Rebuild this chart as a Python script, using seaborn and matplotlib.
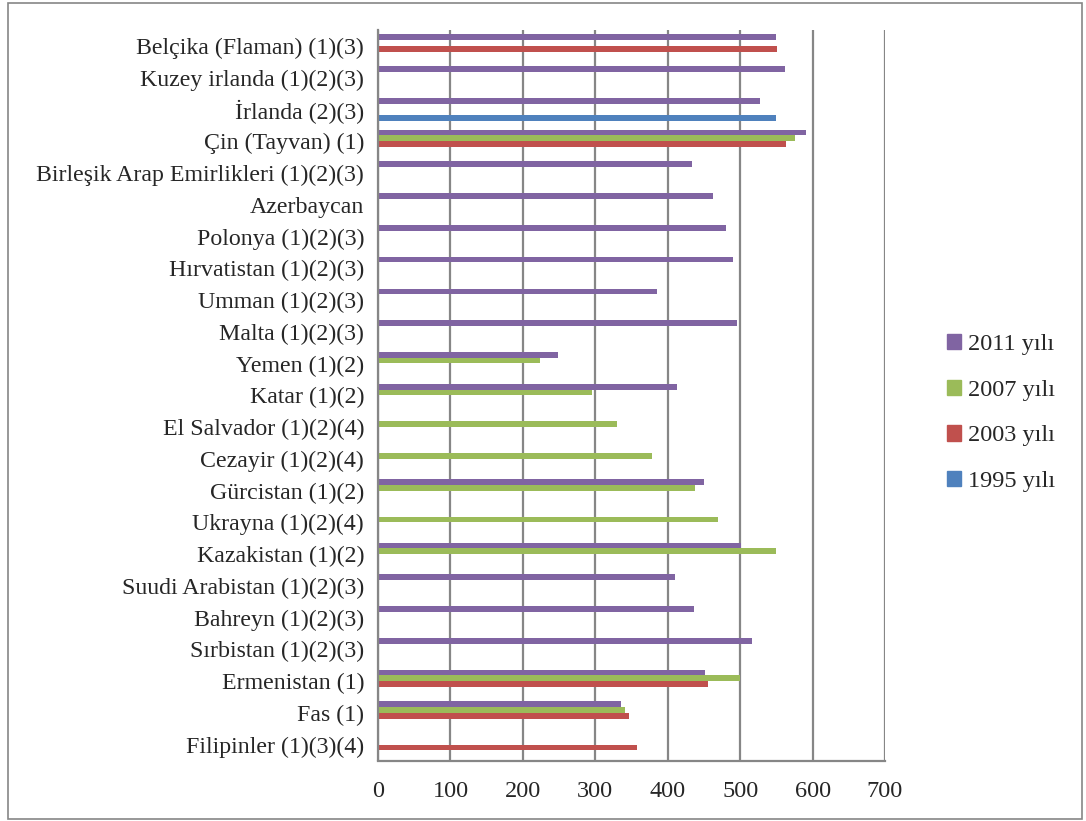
import numpy as np
import pandas as pd
import matplotlib.pyplot as plt
import matplotlib.patches as mpatches
import seaborn as sns

countries = [
    'Belçika (Flaman) (1)(3)', 'Kuzey irlanda (1)(2)(3)', 'İrlanda (2)(3)',
    'Çin (Tayvan) (1)', 'Birleşik Arap Emirlikleri (1)(2)(3)', 'Azerbaycan',
    'Polonya (1)(2)(3)', 'Hırvatistan (1)(2)(3)', 'Umman (1)(2)(3)',
    'Malta (1)(2)(3)', 'Yemen (1)(2)', 'Katar (1)(2)', 'El Salvador (1)(2)(4)',
    'Cezayir (1)(2)(4)', 'Gürcistan (1)(2)', 'Ukrayna (1)(2)(4)',
    'Kazakistan (1)(2)', 'Suudi Arabistan (1)(2)(3)', 'Bahreyn (1)(2)(3)',
    'Sırbistan (1)(2)(3)', 'Ermenistan (1)', 'Fas (1)', 'Filipinler (1)(3)(4)',
]
nan = np.nan
y2011 = [549, 562, 527, 591, 434, 463, 481, 490, 385, 496, 248, 413, nan,
         nan, 450, nan, 501, 410, 436, 516, 452, 335, nan]
y2007 = [nan, nan, nan, 576, nan, nan, nan, nan, nan, nan, 224, 296, 330,
         378, 438, 469, 549, nan, nan, nan, 500, 341, nan]
y2003 = [551, nan, nan, 564, nan, nan, nan, nan, nan, nan, nan, nan, nan,
         nan, nan, nan, nan, nan, nan, nan, 456, 347, 358]
y1995 = [nan, nan, 550, nan, nan, nan, nan, nan, nan, nan, nan, nan, nan,
         nan, nan, nan, nan, nan, nan, nan, nan, nan, nan]

series = ['2011 yılı', '2007 yılı', '2003 yılı', '1995 yılı']
colors = ['#8064A2', '#9BBB59', '#C0504D', '#4F81BD']

df = pd.DataFrame({'ulke': countries, '2011 yılı': y2011, '2007 yılı': y2007,
                   '2003 yılı': y2003, '1995 yılı': y1995})
long = df.melt(id_vars='ulke', var_name='yil', value_name='puan').dropna()

sns.set_style('white')
plt.rcParams['font.family'] = ['Liberation Serif', 'DejaVu Serif']

fig = plt.figure(figsize=(10.86, 8.21), dpi=100)
ax = fig.add_axes([378 / 1086, 1 - 760.5 / 821, 507 / 1086, 730.5 / 821])

sns.barplot(data=long, x='puan', y='ulke', hue='yil', order=countries,
            hue_order=series, palette=colors, orient='h', width=0.72,
            dodge=True, ax=ax, legend=False, saturation=1,
            edgecolor='none')

ax.set_xlim(0, 700)
ax.set_ylim(len(countries) - 0.5, -0.5)
ax.set_xticks(range(0, 701, 100))
ax.grid(axis='x', color='#868686', linewidth=1.6)
ax.set_axisbelow(True)
ax.set_xlabel('')
ax.set_ylabel('')

for s in ['top', 'right']:
    ax.spines[s].set_visible(False)
for s in ['left', 'bottom']:
    ax.spines[s].set_color('#868686')
    ax.spines[s].set_linewidth(1.6)

ax.set_yticks(range(len(countries)))
ax.set_yticklabels(countries, fontsize=17.2)
ax.set_yticks(np.arange(-0.5, len(countries), 1), minor=True)
ax.tick_params(axis='y', which='major', length=0, pad=10)
ax.tick_params(axis='y', which='minor', length=6, width=1.6, color='#868686')
ax.tick_params(axis='x', length=6, width=1.6, color='#868686', labelsize=17.5, pad=9)

handles = [mpatches.Patch(color=c, label=s) for c, s in zip(colors, series)]
fig.legend(handles=handles, loc='center left', bbox_to_anchor=(925 / 1086, 1 - 413 / 821),
           frameon=False, fontsize=17.5, handlelength=0.6, handleheight=0.6,
           handletextpad=0.25, labelspacing=1.0)

fig.patches.append(mpatches.Rectangle((8 / 1086, 2 / 821), 1074 / 1086, 816 / 821,
                                      transform=fig.transFigure, fill=False,
                                      edgecolor='#868686', linewidth=1.2))

fig.savefig('out.png', dpi=100, facecolor='white')
